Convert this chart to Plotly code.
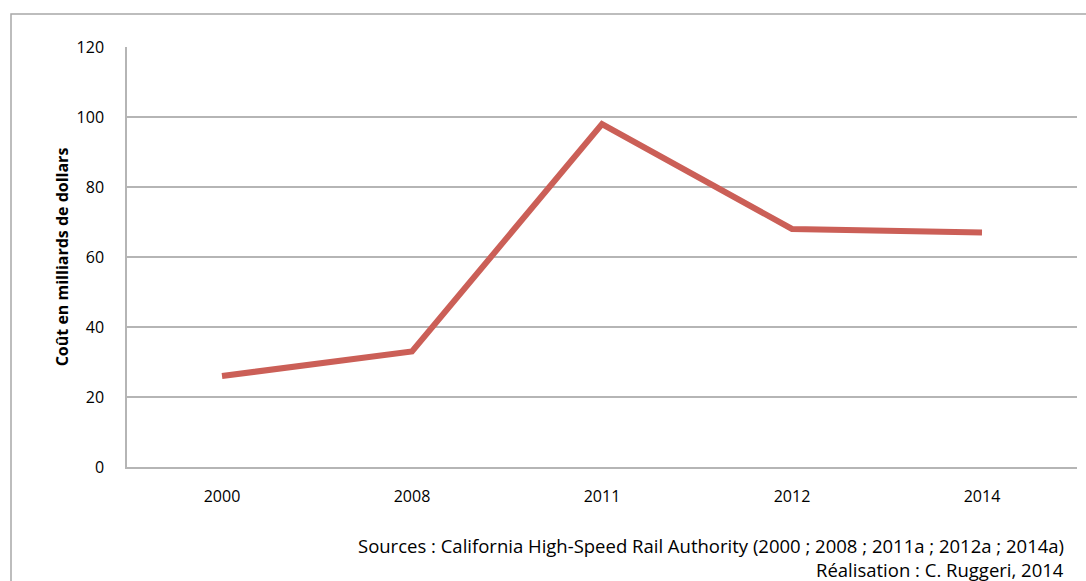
import plotly.graph_objects as go

years = ["2000", "2008", "2011", "2012", "2014"]
costs = [26, 33, 98, 68, 67]
y_ticks = [0, 20, 40, 60, 80, 100, 120]

W, H = 1086, 581
L, R, T, B = 127, 9, 47, 114
pw, ph = W - L - R, H - T - B

fig = go.Figure()
fig.add_trace(go.Scatter(
    x=years, y=costs, mode="lines",
    line=dict(color="#CB5F57", width=6),
    showlegend=False, hoverinfo="skip",
))

font_family = "Open Sans, Liberation Sans, sans-serif"
grid = "#b5b5b5"

fig.update_layout(
    width=W, height=H,
    margin=dict(l=L, r=R, t=T, b=B, pad=0),
    paper_bgcolor="white", plot_bgcolor="white",
    font=dict(family=font_family, size=16, color="#000000"),
    xaxis=dict(
        type="category", range=[-0.5, 4.5], showgrid=False, zeroline=False,
        showline=True, linecolor=grid, linewidth=1.5,
        ticks="", ticklabelstandoff=14,
        tickfont=dict(size=16),
    ),
    yaxis=dict(
        range=[0, 120], tickvals=y_ticks, showgrid=True,
        gridcolor=grid, gridwidth=1.5, zeroline=False,
        showline=True, linecolor=grid, linewidth=1.5,
        ticks="", ticklabelstandoff=18, tickfont=dict(size=16),
        title=dict(text="<b>Coût en milliards de dollars</b>",
                   font=dict(size=16), standoff=4),
    ),
)

# outer frame
fig.add_shape(
    type="rect", xref="paper", yref="paper",
    x0=(11 - L) / pw, x1=(1095 - L) / pw,
    y0=(H - B - 600) / ph, y1=(H - B - 14) / ph,
    line=dict(color="#a8a8a8", width=1.5), fillcolor="rgba(0,0,0,0)",
    layer="below",
)

fig.add_annotation(
    xref="paper", yref="paper",
    x=(1066 - L) / pw, y=(H - B - 545) / ph,
    xanchor="right", yanchor="middle", showarrow=False,
    text="Sources : California High-Speed Rail Authority (2000 ; 2008 ; 2011a ; 2012a ; 2014a)",
    font=dict(size=18.5),
)
fig.add_annotation(
    xref="paper", yref="paper",
    x=(1066 - L) / pw, y=(H - B - 569) / ph,
    xanchor="right", yanchor="middle", showarrow=False,
    text="Réalisation : C. Ruggeri, 2014",
    font=dict(size=18.5),
)

fig.write_html("out.html", config={"displayModeBar": False},
               post_script="document.body.style.margin='0';")
